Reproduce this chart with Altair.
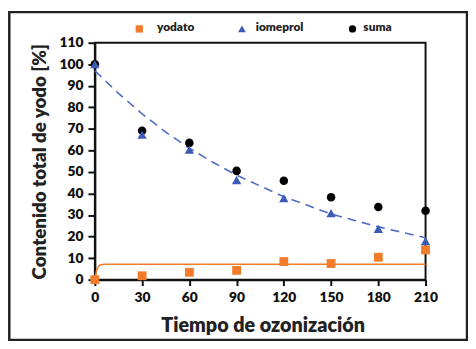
import altair as alt
import pandas as pd

# Data
tiempo = [0, 30, 60, 90, 120, 150, 180, 210]
yodato = [0, 1.8, 3.4, 4.3, 8.4, 7.5, 10.4, 13.8]
iomeprol = [100, 67.3, 60.3, 46.2, 37.8, 30.9, 23.6, 17.9]
suma = [100, 69.1, 63.5, 50.5, 45.9, 38.3, 33.7, 32.0]

# fitted curves
fit_io_t = [0, 15, 30, 45, 60, 75, 90, 105, 120, 135, 150, 165, 180, 195, 210]
fit_io_v = [97, 86.5, 77, 68.5, 61, 54.5, 48.5, 43.5, 38.5, 34.5, 30.5, 27.5, 24.5, 22, 19.5]
fit_yo_t = [0, 1, 2, 3, 4, 6, 10, 210]
fit_yo_v = [0, 4.0, 5.8, 6.6, 6.9, 7.1, 7.1, 7.1]

x_ticks = [0, 30, 60, 90, 120, 150, 180, 210]
y_ticks = [0, 10, 20, 30, 40, 50, 60, 70, 80, 90, 100, 110]

ORANGE = "#f07c2c"
BLUE = "#3b5bb5"
BLUE_LINE = "#4f6cc4"
FONT = "Lato"
W = 800

df_yo = pd.DataFrame({"t": tiempo, "v": yodato})
df_io = pd.DataFrame({"t": tiempo, "v": iomeprol})
df_su = pd.DataFrame({"t": tiempo, "v": suma})
df_fio = pd.DataFrame({"t": fit_io_t, "v": fit_io_v})
df_fyo = pd.DataFrame({"t": fit_yo_t, "v": fit_yo_v})

xs = alt.Scale(domain=[0, 210], nice=False)
ys = alt.Scale(domain=[0, 110], nice=False)

X = alt.X("t:Q", scale=xs, axis=alt.Axis(
    values=x_ticks, title="Tiempo de ozonización", grid=False,
    labelFont=FONT, labelFontSize=14, labelFontWeight=W, labelColor="#111",
    titleFont=FONT, titleFontSize=20, titleFontWeight=W, titleColor="#222",
    domainColor="#111", domainWidth=2, tickColor="#111", tickWidth=2, tickSize=6,
    labelPadding=5, titlePadding=12, labelFlush=False, titleX=170))
Y = alt.Y("v:Q", scale=ys, axis=alt.Axis(
    values=y_ticks, title="Contenido total de yodo [%]", grid=False,
    labelFont=FONT, labelFontSize=14, labelFontWeight=W, labelColor="#111",
    titleFont=FONT, titleFontSize=19, titleFontWeight=W, titleColor="#222",
    domainColor="#111", domainWidth=2, tickColor="#111", tickWidth=2, tickSize=7,
    labelPadding=5, titlePadding=10, labelFlush=False))

fit_io = alt.Chart(df_fio).mark_line(color=BLUE_LINE, strokeWidth=1.6, strokeDash=[9, 6]).encode(x=X, y=Y)
fit_yo = alt.Chart(df_fyo).mark_line(color=ORANGE, strokeWidth=1.5, interpolate="monotone").encode(x=X, y=Y)
pts_su = alt.Chart(df_su).mark_point(shape="circle", filled=True, color="#000", size=75, opacity=1).encode(x=X, y=Y)
pts_io = alt.Chart(df_io).mark_point(shape="triangle-up", filled=True, color=BLUE, size=90, opacity=1).encode(x=X, y=Y)
pts_yo = alt.Chart(df_yo).mark_point(shape="square", filled=True, color=ORANGE, size=80, opacity=1).encode(x=X, y=Y)

# legend (manual)
def leg_sym(shape, color, px, size):
    return alt.Chart(pd.DataFrame({"a": [0]})).mark_point(
        shape=shape, filled=True, color=color, size=size, opacity=1, clip=False
    ).encode(x=alt.value(px), y=alt.value(-14))

def leg_txt(label, px):
    return alt.Chart(pd.DataFrame({"a": [0]})).mark_text(
        text=label, align="left", baseline="middle", font=FONT, fontSize=12,
        fontWeight=W, color="#222", clip=False
    ).encode(x=alt.value(px), y=alt.value(-16))

legend = (leg_sym("square", ORANGE, 45, 55) + leg_txt("yodato", 63) +
          leg_sym("triangle-up", BLUE, 149, 60) + leg_txt("iomeprol", 163) +
          leg_sym("circle", "#000", 261, 55) + leg_txt("suma", 272))

# outer frame
frame = alt.Chart(pd.DataFrame({"a": [0]})).mark_rect(
    fill=None, stroke="#222", strokeWidth=2.5, clip=False
).encode(x=alt.value(-86.7), x2=alt.value(377), y=alt.value(-31), y2=alt.value(301))

chart = alt.layer(frame, fit_io, fit_yo, pts_su, pts_io, pts_yo, legend).properties(
    width=335, height=240,
    padding={"left": 88, "top": 33, "right": 43, "bottom": 63},
    autosize=alt.AutoSizeParams(type="none"),
    background="white",
).configure_view(stroke="#111", strokeWidth=2)

chart.save("out.html", embed_options={"renderer": "svg", "actions": False})
